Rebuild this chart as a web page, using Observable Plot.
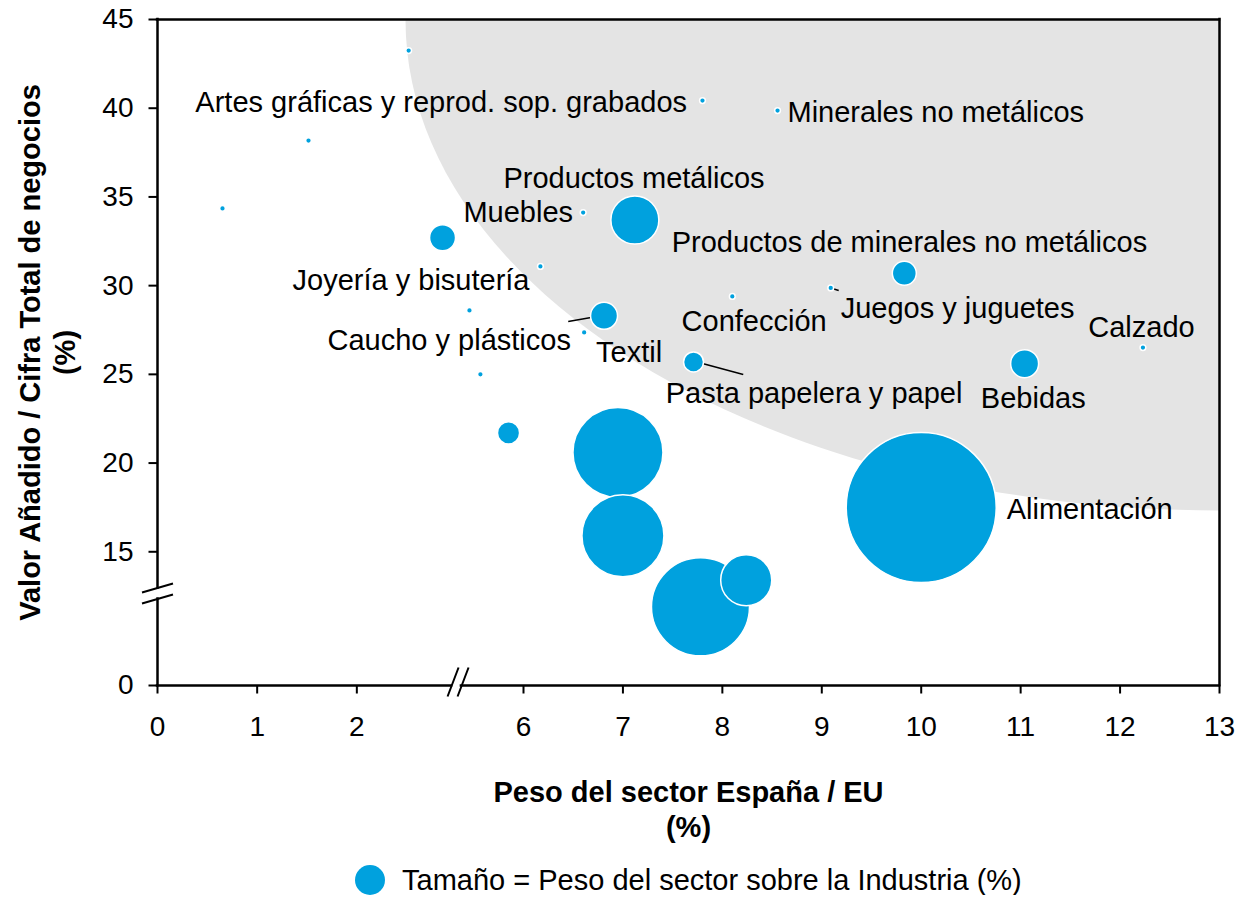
<!DOCTYPE html>
<html>
<head>
<meta charset="utf-8">
<script src="https://cdn.jsdelivr.net/npm/d3@7"></script>
<script src="https://cdn.jsdelivr.net/npm/@observablehq/plot@0.6"></script>
<style>
  body { margin: 0; background: #fff; font-family: "Liberation Sans", Arial, sans-serif; }
  #legend { display: flex; align-items: center; margin: 20px 0 0 355px; height: 30px; font-size: 29px; color: #000; }
  #legend .sw { width: 30px; height: 30px; border-radius: 50%; background: #00a1de; margin-right: 17px; flex: none; }
</style>
</head>
<body>
<div id="chart"></div>
<div id="legend"><span class="sw"></span><span>Tamaño = Peso del sector sobre la Industria (%)</span></div>
<script>
// ---- Data ----
const sectors = [
  "Alimentación", "Sector A", "Sector B", "Sector C", "Sector D",
  "Productos metálicos", "Sector E", "Caucho y plásticos", "Sector F",
  "Productos de minerales no metálicos", "Bebidas", "Pasta papelera y papel",
  "Sector G", "Sector H", "Sector I", "Artes gráficas y reprod. sop. grabados",
  "Minerales no metálicos", "Muebles", "Joyería y bisutería", "Sector J",
  "Textil", "Sector K", "Confección", "Juegos y juguetes", "Calzado"
];
// Peso del sector España / EU (%)
const pesoEU = [10.0, 6.95, 7.0, 7.78, 8.24, 7.12, 2.86, 6.81, 5.33, 9.83, 11.04, 7.71,
  2.52, 1.515, 0.652, 7.80, 8.555, 6.60, 6.17, 3.58, 6.61, 4.07, 8.10, 9.09, 12.23];
// Valor Añadido / Cifra Total de negocios (%)
const valorAnadido = [17.5, 20.6, 15.9, 11.9, 13.4, 33.7, 32.7, 28.3, 21.7, 30.7, 25.6, 25.7,
  43.25, 38.18, 34.35, 40.43, 39.87, 34.12, 31.08, 28.6, 27.36, 25.0, 29.39, 29.87, 26.51];
// Peso del sector sobre la Industria (%)
const pesoIndustria = [17.0, 6.12, 5.08, 7.26, 1.97, 1.74, 0.51, 0.55, 0.37, 0.435, 0.59, 0.30,
  0.025, 0.025, 0.025, 0.025, 0.025, 0.025, 0.025, 0.025, 0.025, 0.025, 0.025, 0.025, 0.025];

const xTicks = [0, 1, 2, 6, 7, 8, 9, 10, 11, 12, 13];
const yTicks = [0, 15, 20, 25, 30, 35, 40, 45];

// Broken axes: piecewise segments [value breakpoints] -> [relative length]
const xBreaks = [0, 3, 6, 13], xSpan = [0, 299, 366, 1062];
const yBreaks = [0, 10, 45],   ySpan = [0, 45, 666];

// Annotation labels (left edge, baseline) in data units
const labelText = ["Artes gráficas y reprod. sop. grabados", "Minerales no metálicos", "Productos metálicos",
  "Muebles", "Productos de minerales no metálicos", "Joyería y bisutería", "Juegos y juguetes", "Confección",
  "Calzado", "Caucho y plásticos", "Textil", "Pasta papelera y papel", "Bebidas", "Alimentación"];
const labelX = [0.38, 8.655, 5.10, 3.31, 7.49, 1.355, 9.19, 7.59, 11.68, 1.706, 6.73, 7.43, 10.60, 10.86];
const labelY = [39.81, 39.25, 35.53, 33.56, 31.87, 29.78, 28.20, 27.47, 27.13, 26.40, 25.72, 23.41, 23.13, 16.82];

// Leader lines
const leaderX1 = [6.45, 7.80, 9.09];
const leaderY1 = [27.98, 25.61, 29.87];
const leaderX2 = [6.68, 8.21, 9.17];
const leaderY2 = [28.20, 24.99, 29.73];

// ---- Build tables ----
const bubbles = sectors.map((s, i) => ({sector: s, x: pesoEU[i], y: valorAnadido[i], peso: pesoIndustria[i]}))
  .sort((a, b) => b.peso - a.peso);
const labels = labelText.map((t, i) => ({text: t, x: labelX[i], y: labelY[i]}));
const leaders = leaderX1.map((_, i) => ({x1: leaderX1[i], y1: leaderY1[i], x2: leaderX2[i], y2: leaderY2[i]}));

const tx = d3.scaleLinear().domain(xBreaks).range(xSpan);
const ty = d3.scaleLinear().domain(yBreaks).range(ySpan);

// Custom symbols
const quarterEllipse = {draw(ctx) {
  const rx = 814, ry = 491, k = 0.5523;
  ctx.moveTo(0, 0); ctx.lineTo(-rx, 0);
  ctx.bezierCurveTo(-rx, k * ry, -k * rx, ry, 0, ry);
  ctx.closePath();
}};
const breakY = {draw(ctx) {
  ctx.moveTo(-15.5, -1); ctx.lineTo(15.5, -10);
  ctx.moveTo(-15.5, 10); ctx.lineTo(15.5, 1);
}};
const breakX = {draw(ctx) {
  ctx.moveTo(-10.5, 11); ctx.lineTo(0.5, -18);
  ctx.moveTo(-0.5, 11); ctx.lineTo(10.5, -18);
}};
const tickDown = {draw(ctx) { ctx.moveTo(0, 0); ctx.lineTo(0, 8); }};
const tickLeft = {draw(ctx) { ctx.moveTo(0, 0); ctx.lineTo(-9, 0); }};

const blue = "#00a1de";
const font = '"Liberation Sans", Arial, sans-serif';
const line = {stroke: "#000", strokeWidth: 2.5, strokeLinecap: "square"};

const chart = Plot.plot({
  width: 1239,
  height: 845,
  marginLeft: 157,
  marginRight: 20,
  marginTop: 19,
  marginBottom: 160,
  style: {fontFamily: font, fontSize: "28px", color: "#000", background: "#fff", overflow: "visible"},
  x: {transform: tx, domain: [0, 1062], axis: null},
  y: {transform: ty, domain: [0, 666], axis: null},
  r: {domain: [0, 17], range: [0, 75]},
  marks: [
    Plot.dot([{x: 13, y: 45}], {x: "x", y: "y", r: 1, symbol: quarterEllipse, fill: "#e4e4e4", stroke: "none"}),
    Plot.link(leaders, {x1: "x1", y1: "y1", x2: "x2", y2: "y2", stroke: "#000", strokeWidth: 1.5}),
    Plot.dot(bubbles, {x: "x", y: "y", r: "peso", fill: blue, stroke: "#fff", strokeWidth: 1.5, title: "sector"}),
    Plot.text(labels, {x: "x", y: "y", text: "text", textAnchor: "start", lineAnchor: "bottom", fontSize: 29, fill: "#000"}),
    // frame with axis breaks
    Plot.ruleY([45], {x1: 0, x2: 13, ...line}),
    Plot.ruleX([13], {y1: 0, y2: 45, ...line}),
    Plot.ruleX([0], {y1: 0, y2: 12.34, ...line}),
    Plot.ruleX([0], {y1: 12.96, y2: 45, ...line}),
    Plot.ruleY([0], {x1: 0, x2: 2.95, ...line}),
    Plot.ruleY([0], {x1: 3.22, x2: 13, ...line}),
    Plot.dot([{x: 0, y: 12.65}], {x: "x", y: "y", r: 1, symbol: breakY, fill: "none", stroke: "#000", strokeWidth: 2}),
    Plot.dot([{x: 3.07, y: 0}], {x: "x", y: "y", r: 1, symbol: breakX, fill: "none", stroke: "#000", strokeWidth: 2}),
    // axes: ticks and tick labels
    Plot.dot(xTicks, {x: d => d, y: 0, r: 1, symbol: tickDown, fill: "none", stroke: "#000", strokeWidth: 2}),
    Plot.dot(yTicks, {x: 0, y: d => d, r: 1, symbol: tickLeft, fill: "none", stroke: "#000", strokeWidth: 2}),
    Plot.text(xTicks, {x: d => d, y: 0, text: d => String(d), dy: 42, textAnchor: "middle", lineAnchor: "middle", fontSize: 28, fill: "#000"}),
    Plot.text(yTicks, {x: 0, y: d => d, text: d => String(d), dx: -24, textAnchor: "end", lineAnchor: "middle", fontSize: 28, fill: "#000"}),
    // axis titles
    Plot.text(["Peso del sector España / EU\n(%)"], {frameAnchor: "bottom", text: d => d, textAnchor: "middle", lineAnchor: "top", dy: 92, fontSize: 29, fontWeight: "bold", lineHeight: 1.2, fill: "#000"}),
    Plot.text(["Valor Añadido / Cifra Total de negocios\n(%)"], {frameAnchor: "left", text: d => d, rotate: -90, textAnchor: "middle", lineAnchor: "middle", dx: -111, fontSize: 29, fontWeight: "bold", lineHeight: 1.2, fill: "#000"})
  ]
});
document.getElementById("chart").appendChild(chart);
</script>
</body>
</html>
